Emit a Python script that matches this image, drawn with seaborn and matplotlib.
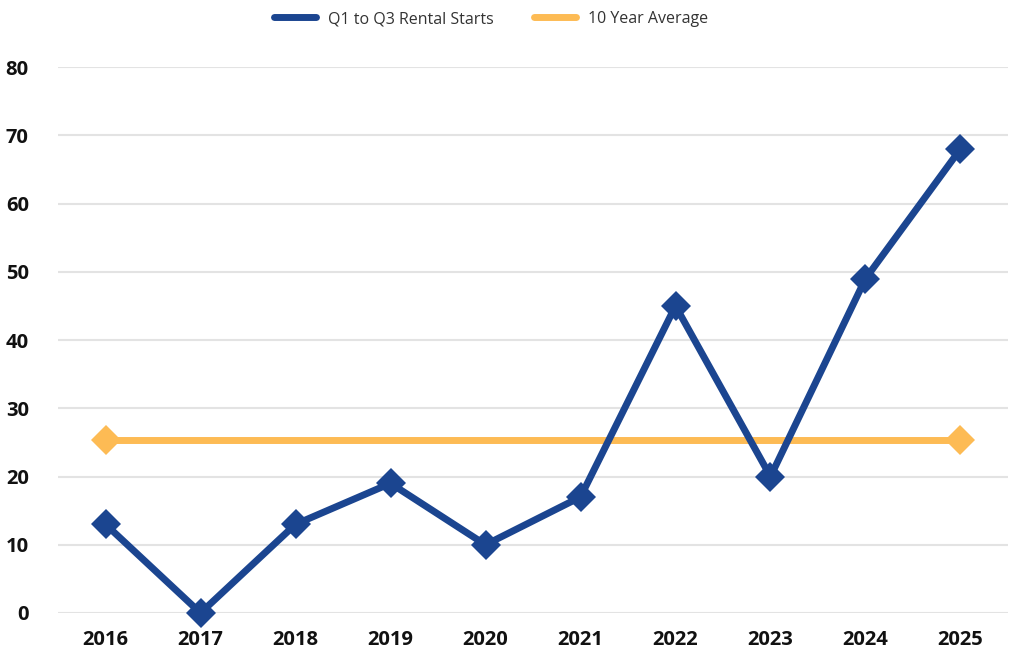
import matplotlib
matplotlib.use("Agg")
import matplotlib.pyplot as plt
import seaborn as sns
import pandas as pd
from matplotlib.lines import Line2D

years = ["2016", "2017", "2018", "2019", "2020", "2021", "2022", "2023", "2024", "2025"]
rental_starts = [13, 0, 13, 19, 10, 17, 45, 20, 49, 68]
ten_year_avg = [25.4] * 10
series_names = ["Q1 to Q3 Rental Starts", "10 Year Average"]
colors = ["#1B4590", "#FDBB54"]

sns.set_theme(style="white")
plt.rcParams['font.family'] = ['Open Sans', 'DejaVu Sans']

x = list(range(len(years)))
df_starts = pd.DataFrame({"x": x, "value": rental_starts})
df_avg = pd.DataFrame({"x": x, "value": ten_year_avg})

fig = plt.figure(figsize=(10.09, 6.58), dpi=100)
ax = fig.add_axes([0.0575, 0.0684, 0.9415, 0.8296])

sns.lineplot(data=df_avg, x="x", y="value", color=colors[1],
             marker="D", markersize=15, linewidth=5, markeredgewidth=0,
             markevery=[0, len(years) - 1], ax=ax, clip_on=False)
sns.lineplot(data=df_starts, x="x", y="value", color=colors[0],
             marker="D", markersize=15, linewidth=5, markeredgewidth=0,
             ax=ax, clip_on=False)

ax.set_xlim(-0.5, 9.5)
ax.set_ylim(0, 80)
ax.set_yticks(range(0, 81, 10))
ax.set_xticks(x)
ax.set_xticklabels(years)
ax.set_xlabel("")
ax.set_ylabel("")
ax.grid(axis="y", color="#E3E3E3", linewidth=1.5, zorder=0)
ax.set_axisbelow(True)
for s in ax.spines.values():
    s.set_visible(False)
ax.tick_params(axis="both", length=0, labelsize=14.5, colors="#111111")
ax.tick_params(axis="y", pad=21)
ax.tick_params(axis="x", pad=12)
for lab in ax.get_xticklabels() + ax.get_yticklabels():
    lab.set_fontweight("bold")

handles = [Line2D([0], [0], color=c, linewidth=5, solid_capstyle="round") for c in colors]
fig.legend(handles, series_names, loc="upper center", bbox_to_anchor=(0.487, 1.005), ncol=2,
           frameon=False, fontsize=11.5, handlelength=2.6, columnspacing=2.5,
           labelcolor="#333333")

fig.savefig("out.png", dpi=100)
